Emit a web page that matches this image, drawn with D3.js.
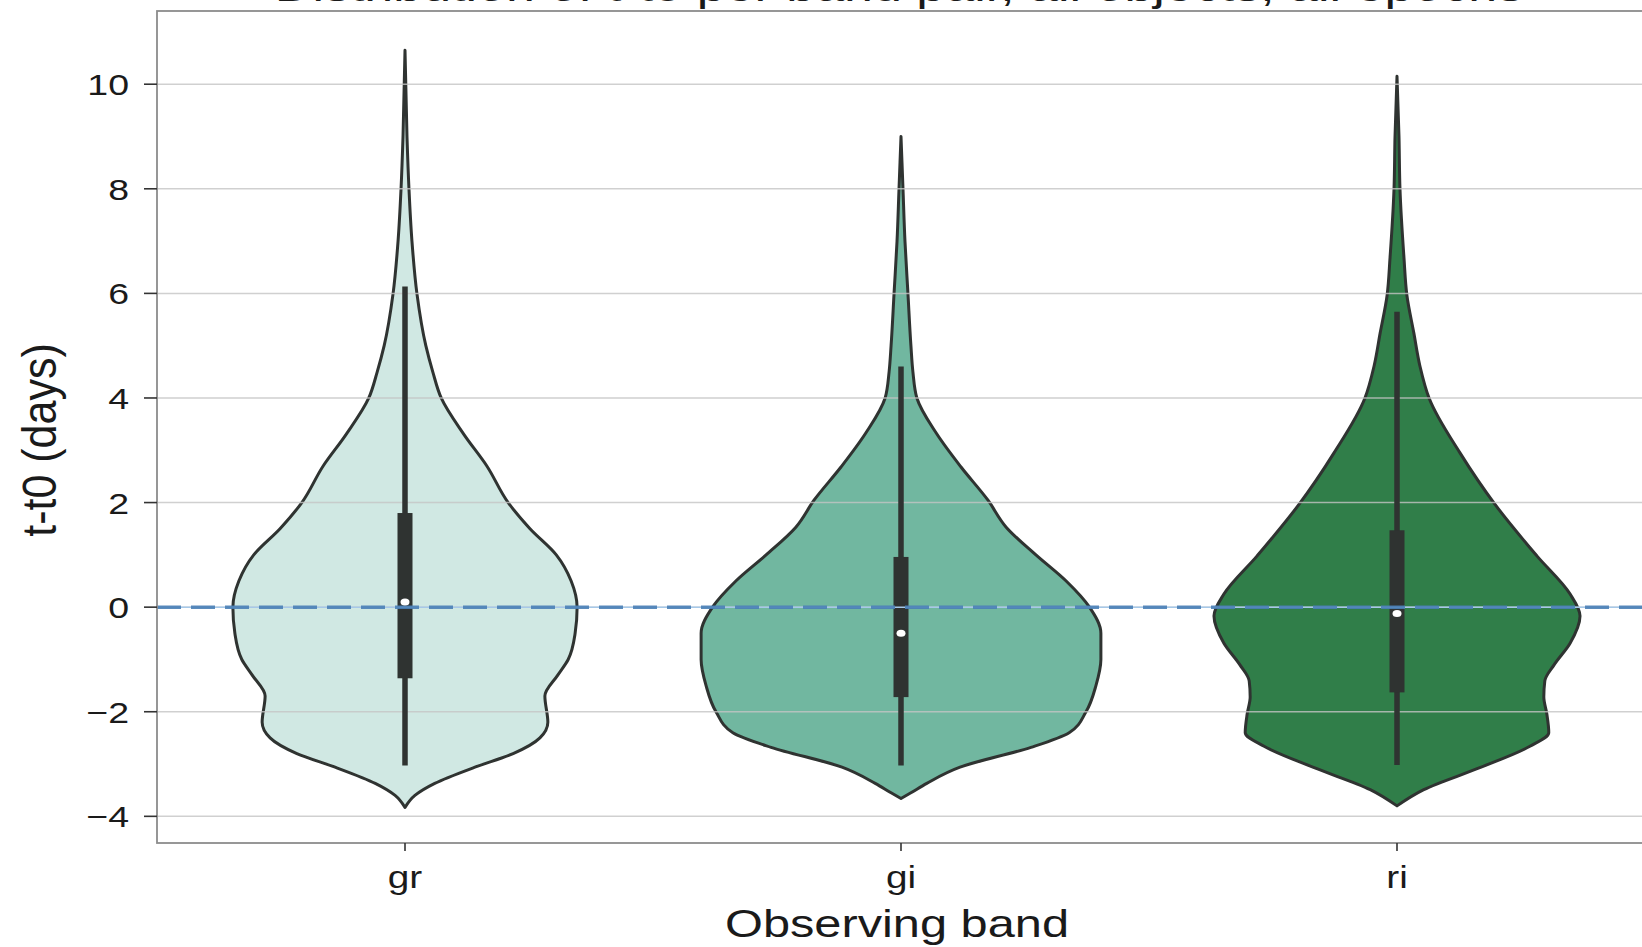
<!DOCTYPE html>
<html>
<head>
<meta charset="utf-8">
<script src="https://cdn.jsdelivr.net/npm/d3@7"></script>
<style>
  html, body { margin: 0; padding: 0; background: #ffffff; overflow: hidden; }
  svg { display: block; }
  text { font-family: "Liberation Sans", Arial, Helvetica, sans-serif; fill: #1a1a1a; }
</style>
</head>
<body>
<svg id="chart" width="1642" height="947"></svg>
<script>
// ---------------- data ----------------
const categories = ["gr", "gi", "ri"];
const yTicks = [-4, -2, 0, 2, 4, 6, 8, 10];
const titleText = "Distribution of t-t0 per band pair, all objects, all epochs";
const xLabel = "Observing band";
const yLabel = "t-t0 (days)";
const fillColors = ["#d0e8e3", "#71b7a0", "#307e49"];

// violin half-widths (in category units) at t-t0 values
const grProfile = [
  [10.65, 0], [9, 0.004], [8, 0.008], [7, 0.014], [6, 0.024], [5, 0.042], [4.5, 0.056],
  [4, 0.073], [3.3, 0.119], [2.7, 0.165], [2, 0.208], [1.5, 0.252], [1, 0.305],
  [0.5, 0.335], [0, 0.347], [-0.5, 0.343], [-1, 0.329], [-1.3, 0.308], [-1.7, 0.282],
  [-2.2, 0.288], [-2.5, 0.272], [-2.8, 0.218], [-3.06, 0.141], [-3.37, 0.060],
  [-3.6, 0.020], [-3.83, 0]
];
const giProfile = [
  [9.0, 0], [8, 0.004], [7, 0.008], [6, 0.014], [5, 0.020], [4.5, 0.024], [4, 0.032],
  [3.33, 0.071], [2.68, 0.121], [2.05, 0.175], [1.53, 0.212], [1, 0.272], [0.5, 0.333],
  [0, 0.380], [-0.5, 0.403], [-1, 0.403], [-1.5, 0.393], [-2, 0.373], [-2.4, 0.339],
  [-2.68, 0.262], [-3.06, 0.119], [-3.37, 0.052], [-3.55, 0.020], [-3.66, 0]
];
const riProfile = [
  [10.15, 0], [9, 0.004], [8, 0.006], [6.69, 0.014], [5.96, 0.020], [5.24, 0.034],
  [4.62, 0.046], [3.99, 0.065], [2.95, 0.127], [1.96, 0.198], [0.98, 0.282],
  [0.25, 0.349], [-0.17, 0.369], [-0.69, 0.349], [-1.1, 0.317], [-1.41, 0.298],
  [-1.72, 0.296], [-2.04, 0.302], [-2.4, 0.306], [-2.66, 0.268], [-3.07, 0.167],
  [-3.49, 0.054], [-3.8, 0]
];
const profiles = [grProfile, giProfile, riProfile];

// box-plot statistics
const q1Values = [-1.36, -1.72, -1.63];
const q3Values = [1.80, 0.96, 1.47];
const medianValues = [0.10, -0.50, -0.12];
const whiskerLow = [-3.03, -3.03, -3.02];
const whiskerHigh = [6.13, 4.60, 5.65];
const refLineValue = 0;

// ---------------- layout ----------------
const plot = { left: 157, right: 1645, top: 11, bottom: 843 };
const textSX = 1.25; // horizontal stretch of text as in the reference

const svg = d3.select("#chart");

const x = d3.scaleLinear().domain([-0.5, categories.length - 0.5]).range([plot.left, plot.right]);
const y = d3.scaleLinear().domain([-4.51, 11.4]).range([plot.bottom, plot.top]);

// title (cut off at the top edge, as in the reference)
svg.append("text")
  .attr("transform", `translate(${(plot.left + plot.right) / 2 - 2},1) scale(1.3,1)`)
  .attr("text-anchor", "middle")
  .style("font-size", "40px")
  .text(titleText);

// violins
const area = d3.area()
  .curve(d3.curveMonotoneY)
  .y(d => y(d.t))
  .x0(d => x(d.c - d.w))
  .x1(d => x(d.c + d.w));

const gViol = svg.append("g");
profiles.forEach((prof, i) => {
  const pts = prof.map(([t, w]) => ({ t, w, c: i }));
  gViol.append("path")
    .attr("d", area(pts))
    .attr("fill", fillColors[i])
    .attr("stroke", "#2f3331")
    .attr("stroke-width", 3)
    .attr("stroke-linejoin", "round");
});

// gridlines (drawn over violin bodies)
svg.append("g")
  .selectAll("line")
  .data(yTicks)
  .join("line")
  .attr("x1", plot.left).attr("x2", plot.right)
  .attr("y1", d => y(d)).attr("y2", d => y(d))
  .attr("stroke", "#c4c4c4")
  .attr("stroke-opacity", 0.8)
  .attr("stroke-width", 1.5);

// boxes and whiskers
const gBox = svg.append("g");
categories.forEach((c, i) => {
  gBox.append("line")
    .attr("x1", x(i)).attr("x2", x(i))
    .attr("y1", y(whiskerHigh[i])).attr("y2", y(whiskerLow[i]))
    .attr("stroke", "#2f3331").attr("stroke-width", 5.5);
  gBox.append("rect")
    .attr("x", x(i) - 7.5).attr("width", 15)
    .attr("y", y(q3Values[i])).attr("height", y(q1Values[i]) - y(q3Values[i]))
    .attr("fill", "#2f3331");
});

// reference line at t-t0 = 0
svg.append("line")
  .attr("x1", plot.left).attr("x2", plot.right)
  .attr("y1", y(refLineValue)).attr("y2", y(refLineValue))
  .attr("stroke", "#a6c8e8").attr("stroke-width", 1.5);
svg.append("line")
  .attr("x1", plot.left).attr("x2", plot.right)
  .attr("y1", y(refLineValue)).attr("y2", y(refLineValue))
  .attr("stroke", "#4a7fb6").attr("stroke-width", 3.5)
  .attr("stroke-opacity", 0.9)
  .attr("stroke-dasharray", "24,10");

// medians
const gMed = svg.append("g");
categories.forEach((c, i) => {
  gMed.append("ellipse")
    .attr("cx", x(i)).attr("cy", y(medianValues[i]))
    .attr("rx", 4.5).attr("ry", 3.5)
    .attr("fill", "#ffffff");
});

// frame
svg.append("rect")
  .attr("x", plot.left).attr("y", plot.top)
  .attr("width", plot.right - plot.left).attr("height", plot.bottom - plot.top)
  .attr("fill", "none").attr("stroke", "#8c8c8c").attr("stroke-width", 1.8);

// y axis ticks + labels
const gy = svg.append("g");
yTicks.forEach(v => {
  gy.append("line")
    .attr("x1", plot.left - 13).attr("x2", plot.left)
    .attr("y1", y(v)).attr("y2", y(v))
    .attr("stroke", "#333").attr("stroke-width", 1.6);
  gy.append("text")
    .attr("transform", `translate(${plot.left - 28},${y(v) + 11}) scale(${textSX},1)`)
    .attr("text-anchor", "end")
    .style("font-size", "30px")
    .text(String(v).replace("-", "\u2212"));
});

// x axis ticks + labels
const gx = svg.append("g");
categories.forEach((c, i) => {
  gx.append("line")
    .attr("x1", x(i)).attr("x2", x(i))
    .attr("y1", plot.bottom).attr("y2", plot.bottom + 8)
    .attr("stroke", "#333").attr("stroke-width", 1.6);
  gx.append("text")
    .attr("transform", `translate(${x(i)},${plot.bottom + 45}) scale(${textSX},1)`)
    .attr("text-anchor", "middle")
    .style("font-size", "31px")
    .text(c);
});

// axis titles
svg.append("text")
  .attr("transform", `translate(${(plot.left + plot.right) / 2 - 4},${plot.bottom + 94}) scale(${textSX},1)`)
  .attr("text-anchor", "middle")
  .style("font-size", "39px")
  .text(xLabel);

svg.append("text")
  .attr("transform", `translate(${56},${440}) scale(1.12,1) rotate(-90)`)
  .attr("text-anchor", "middle")
  .style("font-size", "43px")
  .text(yLabel);
</script>
</body>
</html>
